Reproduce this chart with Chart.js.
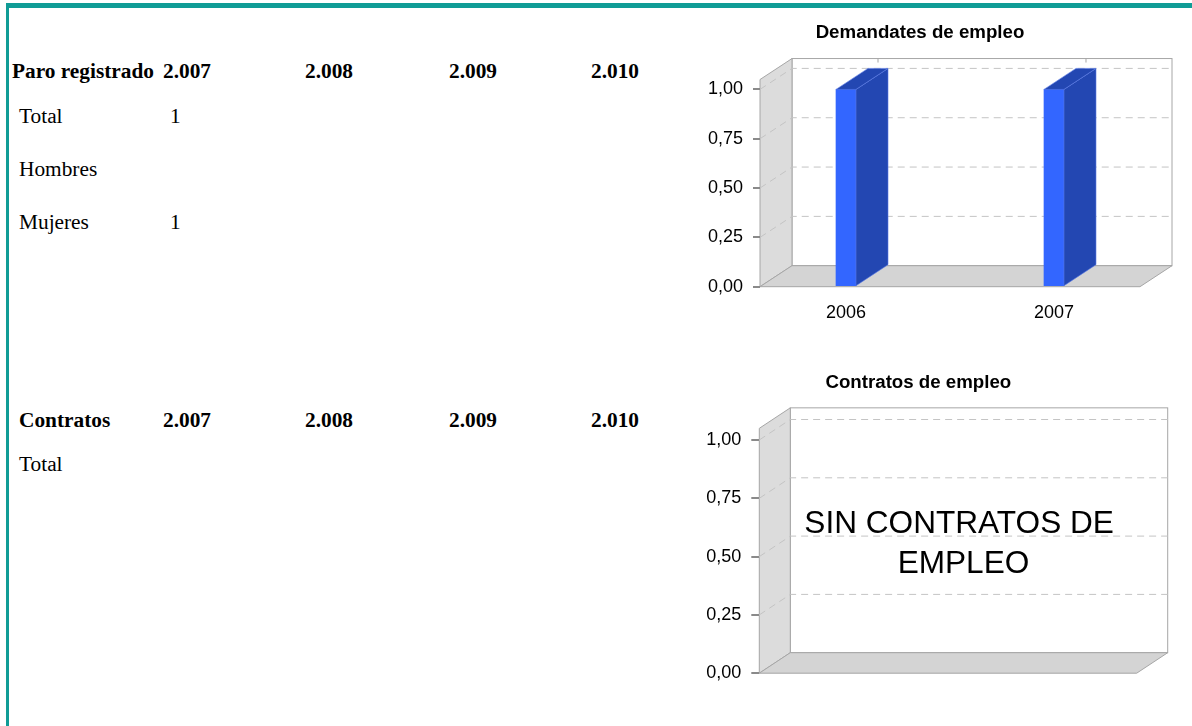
<!DOCTYPE html>
<html>
<head>
<meta charset="utf-8">
<script src="https://cdn.jsdelivr.net/npm/chart.js@4.4.1/dist/chart.umd.min.js"></script>
<style>
  html, body { margin: 0; padding: 0; background: #fff; }
  body { width: 1192px; height: 726px; position: relative; overflow: hidden; }
  .frameTop { position: absolute; left: 6px; top: 3px; width: 1186px; height: 5px; background: #109c96; }
  .frameLeft { position: absolute; left: 6px; top: 3px; width: 3px; height: 723px; background: #109c96; }
  .cell { position: absolute; font-family: 'Liberation Serif', 'Times New Roman', serif; font-size: 21.33px; line-height: 1; white-space: nowrap; color: #000; }
  .head { font-weight: bold; }
  canvas { position: absolute; }
</style>
</head>
<body>
<div class="frameTop"></div>
<div class="frameLeft"></div>
<canvas id="demandaChart" width="490" height="327" style="left:700px; top:0px;"></canvas>
<canvas id="contratosChart" width="482" height="349" style="left:700px; top:345px;"></canvas>

<script>
// tabla paro registrado
const paroYears = ['2.007', '2.008', '2.009', '2.010'];
const paroRows = ['Total', 'Hombres', 'Mujeres'];
const paroTotal = [1, null, null, null];
const paroHombres = [null, null, null, null];
const paroMujeres = [1, null, null, null];

// tabla contratos
const contratosYears = ['2.007', '2.008', '2.009', '2.010'];
const contratosRows = ['Total'];
const contratosTotal = [null, null, null, null];

// graficos
const demandaYears = ['2006', '2007'];
const demandaValues = [1, 1];
const contratosChartYears = [];
const contratosChartValues = [];
const noDataLines = ['SIN CONTRATOS DE ', 'EMPLEO'];

const colX = [163, 305, 449, 591];

function addText(txt, x, baseline, bold) {
    const d = document.createElement('div');
    d.className = 'cell' + (bold ? ' head' : '');
    d.textContent = txt;
    d.style.left = x + 'px';
    d.style.top = (baseline - 17.9) + 'px';
    document.body.appendChild(d);
}

function buildTable(title, titleX, years, rows, values, headBase, rowBases) {
    addText(title, titleX, headBase, true);
    years.forEach((y, i) => addText(y, colX[i], headBase, true));
    rows.forEach((r, j) => {
        addText(r, 19, rowBases[j], false);
        values[j].forEach((v, i) => {
            if (v !== null) addText(String(v), colX[i] + 7, rowBases[j], false);
        });
    });
}

buildTable('Paro registrado', 12, paroYears, paroRows, [paroTotal, paroHombres, paroMujeres], 79.3, [123.5, 177, 230]);
buildTable('Contratos', 19, contratosYears, contratosRows, [contratosTotal], 428, [472]);

Chart.defaults.font.family = "'Liberation Sans', Arial, sans-serif";
Chart.defaults.color = '#000';

function poly(ctx, pts, fill, stroke) {
    ctx.beginPath();
    ctx.moveTo(pts[0][0], pts[0][1]);
    for (let i = 1; i < pts.length; i++) ctx.lineTo(pts[i][0], pts[i][1]);
    ctx.closePath();
    if (fill) { ctx.fillStyle = fill; ctx.fill(); }
    if (stroke) { ctx.strokeStyle = stroke; ctx.stroke(); }
}

// caja 3d estilo excel: paredes, suelo y lineas de division
const box3d = {
    id: 'box3d',
    beforeDraw(chart, args, opts) {
        const { ctx, chartArea: a } = chart;
        const y = chart.scales.y;
        const dx = opts.dx, dy = opts.dy;
        const L = a.left, R = a.right, T = a.top, B = a.bottom;
        ctx.save();
        ctx.lineWidth = 1;
        // pared del fondo
        ctx.fillStyle = '#fff';
        ctx.fillRect(L + dx, T + dy, R - L, B - T);
        ctx.strokeStyle = '#a6a6a6';
        ctx.strokeRect(L + dx, T + dy, R - L, B - T);
        // pared izquierda
        poly(ctx, [[L, B], [L, T], [L + dx, T + dy], [L + dx, B + dy]], '#dcdcdc', '#a6a6a6');
        // suelo
        poly(ctx, [[L, B], [R, B], [R + dx, B + dy], [L + dx, B + dy]], '#d4d4d4', '#a6a6a6');
        // lineas de division
        ctx.setLineDash([7, 5]);
        ctx.strokeStyle = '#c4c4c4';
        y.ticks.forEach(t => {
            if (t.value <= 0) return;
            const py = y.getPixelForValue(t.value);
            ctx.beginPath();
            ctx.moveTo(L, py);
            ctx.lineTo(L + dx, py + dy);
            ctx.lineTo(R + dx, py + dy);
            ctx.stroke();
        });
        ctx.setLineDash([]);
        // marcas de categoria arriba
        if (opts.catTicks) {
            const x = chart.scales.x;
            ctx.strokeStyle = '#a6a6a6';
            x.ticks.forEach(t => {
                const px = x.getPixelForValue(t.value) + dx;
                ctx.beginPath();
                ctx.moveTo(px, T + dy);
                ctx.lineTo(px, T + dy + 4);
                ctx.stroke();
            });
        }
        ctx.restore();
    },
    afterDatasetsDraw(chart, args, opts) {
        const { ctx } = chart;
        const dx = opts.dx, dy = opts.dy;
        ctx.save();
        ctx.lineWidth = 0.6;
        chart.getDatasetMeta(0).data.forEach(bar => {
            const { x, y, base, width } = bar.getProps(['x', 'y', 'base', 'width'], true);
            const l = x - width / 2, r = x + width / 2;
            poly(ctx, [[r, base], [r, y], [r + dx, y + dy], [r + dx, base + dy]], '#2347b2', '#5b7be6');
            poly(ctx, [[l, y], [r, y], [r + dx, y + dy], [l + dx, y + dy]], '#2347b2', '#5b7be6');
        });
        ctx.restore();
    },
    afterDraw(chart, args, opts) {
        if (!opts.noData || chart.data.datasets[0].data.length) return;
        const { ctx, chartArea: a } = chart;
        ctx.save();
        ctx.font = "31.6px 'Liberation Sans', Arial, sans-serif";
        ctx.fillStyle = '#000';
        ctx.textAlign = 'center';
        ctx.textBaseline = 'alphabetic';
        const cx = (a.left + a.right + opts.dx) / 2;
        opts.noData.forEach((line, i) => ctx.fillText(line, cx, a.top + 105 + i * 40));
        ctx.restore();
    }
};

function yAxis(width, tickLen) {
    return {
        min: 0,
        max: 1.05,
        ticks: {
            stepSize: 0.25,
            includeBounds: false,
            padding: 10,
            color: '#000',
            font: { size: 18 },
            callback: v => v.toFixed(2).replace('.', ',')
        },
        grid: { drawOnChartArea: false, drawTicks: true, tickLength: tickLen, color: '#8a8a8a', lineWidth: 2 },
        border: { display: false },
        afterFit: s => { s.width = width; }
    };
}

const demandaChart = document.getElementById('demandaChart');

new Chart(demandaChart, {
    type: 'bar',
    data: {
        datasets: [{
            data: demandaValues.map((v, i) => ({ x: i, y: v })),
            backgroundColor: '#3366ff',
            barThickness: 20
        }]
    },
    options: {
        responsive: false,
        animation: false,
        devicePixelRatio: 1,
        layout: { padding: { left: 0, right: 50, top: 0, bottom: 0 } },
        plugins: {
            legend: { display: false },
            tooltip: { enabled: false },
            title: {
                display: true,
                text: 'Demandates de empleo',
                color: '#000',
                font: { size: 18.7, weight: 'bold' },
                padding: { top: 21.7, bottom: 35.4 }
            },
            box3d: { dx: 32, dy: -21, catTicks: true }
        },
        scales: {
            x: {
                type: 'linear',
                min: -0.4135,
                max: 1.4135,
                offset: false,
                ticks: {
                    stepSize: 1,
                    includeBounds: false,
                    autoSkip: false,
                    maxRotation: 0,
                    padding: 15.3,
                    color: '#000',
                    font: { size: 18 },
                    callback: v => demandaYears[v] ?? ''
                },
                grid: { display: false, drawTicks: false, tickLength: 0 },
                border: { display: false },
                afterFit: s => { s.height = 40.3; }
            },
            y: yAxis(60, 7)
        }
    },
    plugins: [box3d]
});

const contratosChart = document.getElementById('contratosChart');

new Chart(contratosChart, {
    type: 'bar',
    data: {
        datasets: [{
            data: contratosChartValues.map((v, i) => ({ x: i, y: v })),
            backgroundColor: '#3366ff',
            barThickness: 20
        }]
    },
    options: {
        responsive: false,
        animation: false,
        devicePixelRatio: 1,
        layout: { padding: { left: 0, right: 45.3, top: 0, bottom: 0 } },
        plugins: {
            legend: { display: false },
            tooltip: { enabled: false },
            title: {
                display: true,
                text: 'Contratos de empleo',
                color: '#000',
                font: { size: 18.7, weight: 'bold' },
                padding: { top: 26.6, bottom: 34.3 }
            },
            box3d: { dx: 31, dy: -20.5, catTicks: false, noData: noDataLines }
        },
        scales: {
            x: {
                type: 'linear',
                min: 0,
                max: 1,
                ticks: { display: false, callback: v => contratosChartYears[v] ?? '' },
                grid: { display: false, drawTicks: false, tickLength: 0 },
                border: { display: false },
                afterFit: s => { s.height = 20.7; }
            },
            y: yAxis(59.3, 8)
        }
    },
    plugins: [box3d]
});
</script>
</body>
</html>
